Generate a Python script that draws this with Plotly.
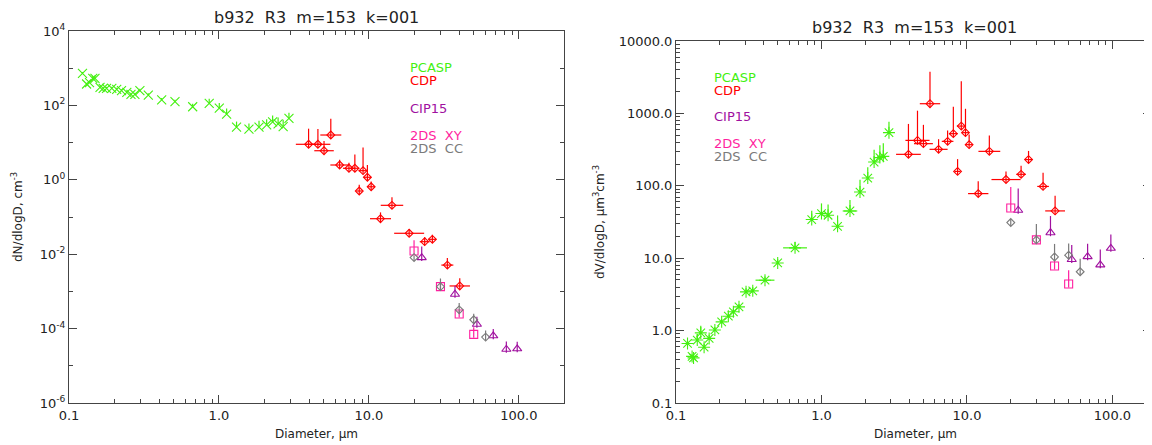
import plotly.graph_objects as go

# page has an 8px body margin: draw the figure 8px smaller and shift all positions
OFF = 8
W, H = 1152 - OFF, 445 - OFF

# ---------------- data: left panel, dN/dlogD (cm^-3) ----------------
pcasp_diam_n = [0.123, 0.131, 0.137, 0.144, 0.149, 0.161, 0.169, 0.178, 0.193, 0.208,
                0.224, 0.243, 0.259, 0.275, 0.297, 0.338, 0.415, 0.509, 0.668, 0.861,
                1.005, 1.125, 1.31, 1.585, 1.85, 2.08, 2.28, 2.48, 2.68, 2.93]
pcasp_dn = [730, 376, 408, 535, 535, 307, 288, 288, 288, 271,
            248, 225, 199, 199, 248, 190, 140, 126, 92, 114,
            84, 58, 26, 23, 26, 30, 36, 32, 27, 45]
pcasp_up_n = [0.03, 0.03, 0.03, 0.06, 0.08, 0.05, 0.04, 0.04, 0.04, 0.04,
              0.04, 0.04, 0.04, 0.04, 0.05, 0.05, 0.05, 0.05, 0.08, 0.12,
              0.14, 0.15, 0.15, 0.15, 0.17, 0.15, 0.17, 0.17, 0.18, 0.15]

# ---------------- data: right panel, dV/dlogD (um^3 cm^-3) ----------------
pcasp_diam_v = [0.120, 0.129, 0.132, 0.140, 0.148, 0.156, 0.169, 0.185, 0.206, 0.229,
                0.248, 0.271, 0.303, 0.337, 0.409, 0.500, 0.658, 0.857, 1.00, 1.11,
                1.29, 1.57, 1.84, 2.08, 2.30, 2.52, 2.66, 2.91]
pcasp_dv = [0.665, 0.44, 0.42, 0.74, 0.93, 0.59, 0.78, 1.02, 1.32, 1.58,
            1.82, 2.13, 3.43, 3.54, 4.97, 8.6, 13.9, 34.2, 41.4, 39.2,
            27.6, 44.9, 82, 128, 213, 245, 255, 542]
pcasp_up_v = [0.03, 0.03, 0.03, 0.08, 0.10, 0.05, 0.05, 0.04, 0.04, 0.04,
              0.04, 0.04, 0.05, 0.05, 0.05, 0.05, 0.08, 0.12, 0.14, 0.15,
              0.15, 0.15, 0.17, 0.15, 0.17, 0.17, 0.18, 0.15]
pcasp_xhalf_v = [0, 0, 0, 0, 0, 0, 0, 0, 0, 0,
                 0, 0, 0, 0, 0.065, 0, 0.082, 0, 0, 0,
                 0, 0.05, 0, 0, 0, 0, 0, 0]

# CDP (shared diameters)
cdp_diam = [3.96, 4.57, 5.02, 5.57, 6.38, 7.36, 8.06, 8.62, 9.14, 9.77,
            10.35, 11.95, 14.25, 18.55, 23.55, 26.5, 33.35, 40.35]
cdp_dn = [9.0, 9.0, 6.05, 16.0, 2.50, 2.04, 2.04, 0.50, 1.76, 1.17,
          0.65, 0.090, 0.206, 0.0365, 0.0217, 0.0251, 0.0051, 0.0014]
cdp_dv = [272, 424, 382, 1361, 319, 411, 525, 158, 668, 542,
          370, 78, 299, 122, 144, 230, 98, 45]
cdp_up = [0.42, 0.41, 0.26, 0.44, 0.14, 0.15, 0.37, 0.17, 0.62, 0.33,
          0.14, 0.17, 0.22, 0.11, 0.12, 0.12, 0.19, 0.21]
cdp_xhalf = [0.085, 0.083, 0.065, 0.07, 0.062, 0.04, 0.03, 0.02, 0.03, 0.025,
             0.025, 0.07, 0.075, 0.1, 0.033, 0.025, 0.04, 0.068]

# CIP15
cip_diam = [22.5, 37.5, 52.5, 67.5, 82.5, 97.5]
cip_dn = [0.0081, 8.4e-4, 1.31e-4, 6.4e-5, 2.78e-5, 2.86e-5]
cip_dv = [45.9, 22.5, 9.6, 10.5, 8.1, 13.7]
cip_up = [0.30, 0.23, 0.20, 0.18, 0.21, 0.19]

# 2DS XY
xy_diam = [20, 30, 40, 50]
xy_dn = [0.0122, 0.00134, 2.47e-4, 7.0e-5]
xy_dv = [49.4, 17.9, 7.8, 4.4]
xy_up = [0.29, 0.08, 0.08, 0.19]

# 2DS CC
cc_diam = [20, 30, 40, 50, 60]
cc_dn = [0.0081, 0.00134, 3.2e-4, 1.73e-4, 5.9e-5]
cc_dv = [31.1, 17.9, 10.4, 11.0, 6.5]
cc_up = [0.05, 0.22, 0.18, 0.16, 0.18]

title_text = "b932\u00a0\u00a0R3\u00a0\u00a0m=153\u00a0\u00a0k=001"
legend_names = ["PCASP", "CDP", "CIP15", "2DS\u00a0\u00a0XY", "2DS\u00a0\u00a0CC"]

C_PCASP = "#44f010"
C_CDP = "#ff0000"
C_CIP = "#a0109f"
C_XY = "#ff1fa0"
C_CC = "#7a7a7a"
FONT = "DejaVu Sans"
AX = "#444444"

# ---------------- geometry (window pixels) ----------------
L_X0, L_X1, L_Y0, L_Y1 = 69, 564, 31, 403
R_X0, R_X1, R_Y0, R_Y1 = 676, 1151, 41, 403
L_DEC_PX = (L_Y1 - L_Y0) / 10.0
R_DEC_PX = (R_Y1 - R_Y0) / 5.0


def px(x):
    return (x - OFF) / W


def py(y):
    return 1 - (y - OFF) / H


def up_err(vals, decs):
    return [v * (10 ** d - 1) for v, d in zip(vals, decs)]


def dn_err(vals, dec):
    return [v * (1 - 10 ** (-dec)) for v in vals]


def xerr_plus(ds, halves):
    return [d * (10 ** h - 1) for d, h in zip(ds, halves)]


def xerr_minus(ds, halves):
    return [d * (1 - 10 ** (-h)) for d, h in zip(ds, halves)]


fig = go.Figure()


def add(x, y, up, color, symbol, size, xa, ya, down_dec, xhalf=None):
    ey = dict(type="data", symmetric=False, array=up_err(y, up),
              arrayminus=dn_err(y, down_dec), color=color, thickness=1.2, width=0)
    kw = {}
    if xhalf is not None:
        kw["error_x"] = dict(type="data", symmetric=False, array=xerr_plus(x, xhalf),
                             arrayminus=xerr_minus(x, xhalf), color=color,
                             thickness=1.2, width=0)
    fig.add_trace(go.Scatter(
        x=x, y=y, mode="markers", xaxis=xa, yaxis=ya, showlegend=False,
        marker=dict(symbol=symbol, size=size, color=color,
                    line=dict(color=color, width=1.1)),
        error_y=ey, **kw))


ld = 3.5 / L_DEC_PX
rd = 3.5 / R_DEC_PX

# left panel
add(pcasp_diam_n, pcasp_dn, pcasp_up_n, C_PCASP, "x-thin-open", 9, "x", "y", 0.0)
add(cdp_diam, cdp_dn, cdp_up, C_CDP, "diamond-open", 6, "x", "y", ld, cdp_xhalf)
add(cip_diam, cip_dn, cip_up, C_CIP, "triangle-up-open", 8, "x", "y", ld)
add(xy_diam, xy_dn, xy_up, C_XY, "square-open", 8, "x", "y", ld)
add(cc_diam, cc_dn, cc_up, C_CC, "diamond-open", 6, "x", "y", ld)

# right panel
add(pcasp_diam_v, pcasp_dv, pcasp_up_v, C_PCASP, "asterisk-open", 10, "x2", "y2", 0.0, pcasp_xhalf_v)
add(cdp_diam, cdp_dv, cdp_up, C_CDP, "diamond-open", 6, "x2", "y2", rd, cdp_xhalf)
add(cip_diam, cip_dv, cip_up, C_CIP, "triangle-up-open", 8, "x2", "y2", rd)
add(xy_diam, xy_dv, xy_up, C_XY, "square-open", 8, "x2", "y2", rd)
add(cc_diam, cc_dv, cc_up, C_CC, "diamond-open", 6, "x2", "y2", rd)

# ---------------- axes ----------------
x_major = [0.1, 1, 10, 100]
x_labels = ["0.1", "1.0", "10.0", "100.0"]
x_minor = [k * 10 ** n for n in (-1, 0, 1, 2) for k in range(2, 10) if k * 10 ** n <= 200]

tickfont = dict(family=FONT, size=13, color="#222222")


def axis(rng, domain, tickvals, ticktext, minorvals, anchor):
    return dict(type="log", range=rng, domain=domain, anchor=anchor, automargin=False,
                showgrid=False, zeroline=False, showline=True, linecolor=AX,
                linewidth=1, mirror="ticks", ticks="inside", ticklen=8,
                tickwidth=1, tickcolor=AX, tickmode="array", tickvals=tickvals,
                ticktext=ticktext, tickfont=tickfont,
                minor=dict(tickmode="array", tickvals=minorvals, ticks="inside",
                           ticklen=4, tickwidth=1, tickcolor=AX, showgrid=False))


ly_major = [10.0 ** e for e in (-6, -4, -2, 0, 2, 4)]
ly_labels = ["10<sup>%d</sup>" % e for e in (-6, -4, -2, 0, 2, 4)]
ly_minor = [10.0 ** e for e in (-5, -3, -1, 1, 3)]

ry_major = [0.1, 1, 10, 100, 1000, 10000]
ry_labels = ["0.1", "1.0", "10.0", "100.0", "1000.0", "10000.0"]
ry_minor = [k * 10.0 ** n for n in (-1, 0, 1, 2, 3) for k in range(2, 10)]

fig.update_layout(
    width=W, height=H, margin=dict(l=0, r=0, t=0, b=0, pad=0, autoexpand=False),
    paper_bgcolor="white", plot_bgcolor="white", showlegend=False,
    font=dict(family=FONT, color="#222222"),
    xaxis=axis([-1, 2.301], [px(L_X0), px(L_X1)], x_major, x_labels, x_minor, "y"),
    yaxis=axis([-6, 4], [py(L_Y1), py(L_Y0)], ly_major, ly_labels, ly_minor, "x"),
    xaxis2=axis([-1, 2.265], [px(R_X0), px(R_X1)], x_major, x_labels, x_minor, "y2"),
    yaxis2=axis([-1, 4], [py(R_Y1), py(R_Y0)], ry_major, ry_labels, ry_minor, "x2"),
)


def note(text, x, y, size, color="#222222", xanchor="center", angle=0):
    return dict(text=text, x=px(x), y=py(y), xref="paper", yref="paper",
                xanchor=xanchor, yanchor="middle", showarrow=False, textangle=angle,
                font=dict(family=FONT, size=size, color=color))


ann = [
    note(title_text, 316, 17, 16),
    note(title_text, 914, 28, 16),
    note("Diameter, \u03bcm", 316, 434, 12),
    note("Diameter, \u03bcm", 915, 434, 12),
    note("dN/dlogD, cm<sup>-3</sup>", 17, 217, 12, angle=-90),
    note("dV/dlogD, \u03bcm<sup>3</sup>cm<sup>-3</sup>", 599, 222, 12, angle=-90),
]

colors = [C_PCASP, C_CDP, C_CIP, C_XY, C_CC]
for x0, ys in ((408, [67, 80.5, 108, 135, 148.5]), (712, [77, 90, 117, 143.5, 156.5])):
    for name, c, yy in zip(legend_names, colors, ys):
        ann.append(note(name, x0, yy, 13, color=c, xanchor="left"))

fig.update_layout(annotations=ann)
fig.write_html("out.html")
